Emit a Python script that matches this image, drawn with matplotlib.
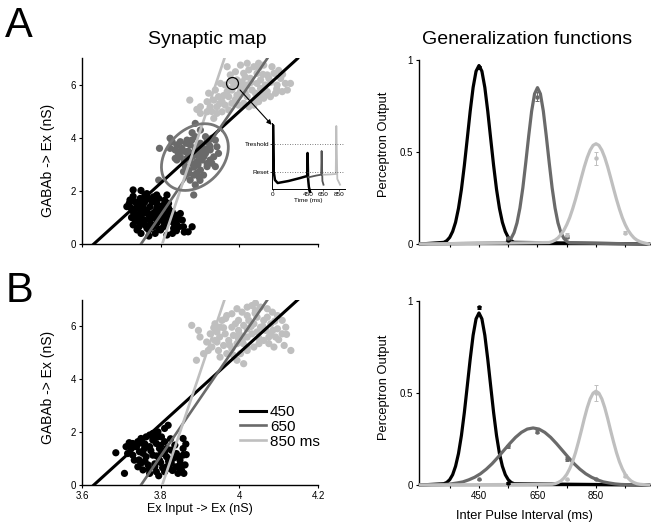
import numpy as np
import matplotlib.pyplot as plt

plt.rcParams['font.family'] = ['Liberation Sans', 'DejaVu Sans']

# colours for the three trained intervals
BLACK = '#000000'
DARK = '#6a6a6a'
LIGHT = '#bfbfbf'

# ---------------- panel A, synaptic map (Ex input, GABAb) ----------------
a450_x = [3.73, 3.75, 3.76, 3.72, 3.714, 3.816, 3.82, 3.88, 3.87, 3.85, 3.84, 3.855, 3.73, 3.74, 3.75,
          3.816, 3.83, 3.80, 3.78, 3.773, 3.765, 3.745, 3.79, 3.803, 3.807, 3.82, 3.795, 3.778, 3.73, 3.74,
          3.756, 3.77, 3.782, 3.795, 3.812, 3.837, 3.846, 3.858, 3.744, 3.76, 3.77, 3.786, 3.726, 3.722,
          3.748, 3.773, 3.786, 3.757, 3.735, 3.829, 3.833, 3.807, 3.79, 3.816, 3.75, 3.76, 3.78, 3.79,
          3.80, 3.74, 3.77, 3.80, 3.81, 3.83, 3.76, 3.79, 3.735, 3.75, 3.82,
          3.725, 3.735, 3.745, 3.755, 3.765, 3.775, 3.785, 3.795, 3.805, 3.815, 3.825, 3.835, 3.845,
          3.765, 3.78, 3.795, 3.755, 3.81, 3.73, 3.77, 3.86, 3.84, 3.79, 3.75]
a450_y = [2.04, 2.02, 1.85, 1.53, 1.41, 1.85, 1.53, 0.65, 0.46, 1.15, 0.78, 0.90, 0.72, 0.53, 0.40,
          0.34, 0.40, 0.53, 0.65, 0.90, 1.28, 1.53, 1.53, 1.34, 1.03, 0.84, 1.03, 1.59, 1.22, 1.41,
          1.53, 1.72, 1.78, 1.72, 1.59, 1.09, 0.65, 0.65, 0.84, 0.72, 0.53, 0.40, 1.00, 1.66,
          1.72, 1.41, 1.22, 1.16, 1.59, 1.22, 0.59, 0.65, 0.78, 1.16, 1.00, 0.90, 1.00, 1.35,
          0.90, 1.10, 1.10, 1.20, 0.75, 0.95, 1.60, 1.85, 1.30, 1.35, 1.35,
          1.35, 0.90, 0.65, 1.45, 0.60, 0.75, 1.60, 0.55, 1.45, 0.95, 1.05, 0.75, 0.95,
          1.90, 1.15, 1.20, 0.80, 1.65, 1.80, 0.30, 0.45, 0.50, 0.95, 1.20]

a650_x = [3.797, 3.795, 3.824, 3.829, 3.841, 3.854, 3.867, 3.888, 3.901, 3.888, 3.875, 3.863, 3.850,
          3.837, 3.841, 3.867, 3.879, 3.892, 3.901, 3.909, 3.918, 3.930, 3.939, 3.943, 3.935, 3.926,
          3.918, 3.901, 3.892, 3.884, 3.871, 3.863, 3.858, 3.875, 3.888, 3.884, 3.897, 3.909, 3.918,
          3.905, 3.892, 3.879, 3.901, 3.914, 3.939, 3.947, 3.871, 3.888, 3.850, 3.837, 3.824, 3.879,
          3.914, 3.926,
          3.86, 3.87, 3.88, 3.895, 3.905, 3.885, 3.865, 3.85, 3.91, 3.925, 3.87, 3.895, 3.88, 3.845,
          3.90, 3.93]
a650_y = [3.61, 2.41, 3.99, 3.86, 3.74, 3.61, 3.92, 4.55, 4.30, 4.05, 3.74, 3.48, 3.29,
          3.23, 3.17, 3.23, 3.42, 3.36, 3.55, 3.61, 3.86, 3.99, 3.92, 3.67, 3.29, 3.17,
          2.92, 2.79, 2.67, 2.60, 2.67, 2.92, 2.73, 2.41, 2.23, 1.85, 2.54, 2.60, 3.04,
          3.17, 3.11, 3.04, 3.80, 3.42, 2.92, 3.42, 3.29, 3.61, 3.86, 3.55, 3.61, 3.92,
          4.05, 3.55,
          3.10, 3.50, 3.30, 3.00, 3.45, 2.90, 3.80, 3.50, 3.30, 3.70, 2.80, 3.70, 4.20, 3.40,
          2.40, 3.05]

a850_x = [3.874, 3.892, 3.901, 3.918, 3.926, 3.922, 3.939, 3.947, 3.956, 3.964, 3.943, 3.935, 3.956,
          3.973, 3.981, 3.994, 4.003, 4.011, 4.020, 4.032, 4.045, 4.054, 4.066, 4.075, 4.088, 4.105,
          4.117, 4.130, 4.109, 4.092, 4.079, 4.062, 4.049, 4.037, 4.024, 4.011, 3.998, 3.977, 3.990,
          4.011, 4.024, 4.037, 4.049, 4.062, 4.083, 3.969, 3.986, 3.969, 3.952, 3.935, 3.973, 4.028,
          4.045, 4.071, 4.096, 4.122, 3.994, 4.007, 4.020, 4.041, 4.054, 4.071, 4.020, 4.003, 3.981,
          3.964, 3.943, 3.918, 3.901, 4.054,
          3.95, 3.99, 4.00, 4.015, 4.03, 4.06, 4.08, 4.10, 4.04, 3.96, 3.975, 4.05, 4.095, 3.93,
          4.015, 3.98, 4.11, 4.065]
a850_y = [5.43, 5.08, 5.18, 4.99, 5.18, 5.69, 5.81, 5.56, 5.37, 5.24, 4.93, 4.74, 4.99,
          5.06, 5.31, 5.62, 5.75, 5.94, 5.56, 5.81, 6.06, 6.19, 6.00, 6.25, 6.44, 6.25,
          6.06, 6.06, 5.75, 5.69, 5.56, 5.50, 5.37, 5.24, 5.18, 5.31, 5.24, 6.38, 6.50,
          6.44, 6.57, 6.69, 6.82, 6.75, 6.69, 6.69, 6.00, 5.75, 6.06, 5.43, 5.56, 6.25,
          6.44, 6.38, 6.00, 5.81, 6.19, 6.12, 6.00, 5.69, 5.87, 5.75, 6.82, 6.75, 5.81,
          6.00, 5.18, 5.37, 4.93, 5.56,
          5.30, 5.45, 5.95, 5.70, 6.10, 6.40, 6.10, 6.55, 5.45, 5.60, 5.85, 6.65, 5.85, 5.00,
          6.30, 6.15, 6.40, 5.65]

# ---------------- panel B, synaptic map ----------------
b450_x = [3.686, 3.708, 3.712, 3.725, 3.729, 3.742, 3.750, 3.763, 3.772, 3.780, 3.793, 3.802, 3.819,
          3.810, 3.857, 3.864, 3.857, 3.862, 3.853, 3.859, 3.840, 3.827, 3.815, 3.797, 3.785, 3.772,
          3.755, 3.742, 3.733, 3.729, 3.746, 3.759, 3.772, 3.789, 3.797, 3.815, 3.827, 3.840, 3.849,
          3.832, 3.802, 3.780, 3.763, 3.750, 3.768, 3.789, 3.810, 3.823, 3.844, 3.810, 3.780, 3.738,
          3.716, 3.793, 3.836, 3.755, 3.815, 3.857,
          3.74, 3.76, 3.775, 3.79, 3.80, 3.805, 3.82, 3.83, 3.835, 3.85, 3.845, 3.76, 3.77, 3.785,
          3.80, 3.81, 3.755, 3.745, 3.795, 3.865, 3.72, 3.78, 3.825]
b450_y = [1.22, 0.44, 1.45, 1.38, 1.57, 1.64, 1.76, 1.82, 1.89, 1.95, 2.01, 1.82, 2.26,
          2.14, 1.76, 1.55, 1.13, 0.76, 0.57, 0.44, 0.69, 0.82, 1.07, 0.94, 0.69, 0.44,
          0.57, 0.69, 0.94, 1.13, 1.26, 1.38, 1.45, 1.57, 1.38, 1.38, 1.32, 1.19, 0.94,
          1.01, 1.19, 1.13, 1.07, 0.82, 0.76, 0.50, 0.50, 0.63, 0.44, 1.64, 1.70, 1.45,
          1.19, 1.82, 1.51, 1.57, 0.69, 1.38,
          1.50, 1.55, 1.30, 1.10, 0.85, 0.65, 0.90, 0.55, 1.15, 0.80, 1.05, 0.90, 0.60, 0.80,
          1.50, 1.25, 1.20, 0.95, 0.35, 1.15, 1.60, 1.85, 1.75]

b850_x = [3.879, 3.896, 3.900, 3.891, 3.909, 3.921, 3.930, 3.938, 3.926, 3.943, 3.951, 3.938, 3.956,
          3.968, 3.981, 3.994, 4.007, 4.020, 4.032, 4.041, 4.054, 4.071, 4.084, 4.097, 4.109, 4.118,
          4.109, 4.092, 4.080, 4.067, 4.054, 4.037, 4.024, 4.011, 3.998, 3.985, 3.973, 3.960, 3.947,
          3.951, 3.968, 3.981, 3.994, 4.007, 4.020, 4.032, 4.045, 4.062, 4.075, 4.088, 4.114, 4.131,
          4.011, 3.994, 3.985, 4.003, 4.020, 4.037, 4.050, 3.964, 3.981, 3.998, 4.020, 4.045, 4.062,
          4.080, 4.097, 4.071, 3.943, 3.917, 4.041, 4.020, 3.998,
          3.95, 3.96, 3.99, 4.00, 4.01, 4.03, 4.04, 4.06, 4.075, 4.09, 4.10, 4.02, 3.975, 3.965,
          4.05, 4.085, 3.935, 4.12]
b850_y = [6.04, 5.85, 5.60, 4.72, 4.97, 5.09, 5.22, 5.47, 5.72, 5.79, 5.97, 6.10, 6.23,
          6.41, 6.48, 6.67, 6.54, 6.73, 6.79, 6.88, 6.73, 6.67, 6.54, 6.41, 6.23, 5.97,
          5.72, 5.60, 5.72, 5.85, 5.97, 6.10, 6.23, 6.04, 5.85, 5.66, 5.47, 5.28, 5.09,
          4.84, 4.97, 5.16, 5.35, 5.47, 5.60, 5.72, 5.79, 5.47, 5.35, 5.22, 5.28, 5.09,
          4.59, 4.72, 4.91, 4.97, 5.09, 5.22, 5.35, 5.72, 5.97, 6.23, 6.41, 6.35, 6.23,
          6.10, 5.91, 6.35, 5.41, 5.41, 6.60, 5.91, 5.53,
          5.60, 5.95, 6.10, 5.70, 5.35, 6.00, 6.50, 6.00, 5.60, 6.20, 5.50, 5.20, 5.30, 6.30,
          5.55, 5.85, 5.95, 5.70]

# fitted separating lines: Ex value where GABAb = 0 and where GABAb = 7
line_x0 = [3.630, 3.750, 3.804]
line_x7 = [4.148, 4.071, 3.962]
line_colors = [BLACK, DARK, LIGHT]
line_labels = ['450', '650', '850 ms']

# inset: membrane potential traces (time in ms, potential in arbitrary units)
tr450_t = [0, 0, 8, 25, 60, 200, 350, 440, 445, 452, 462, 478]
tr450_v = [17, 64, 18, 9, 6, 8, 11, 13, 36, 10, 2, -3]
tr650_t = [457, 560, 620, 626, 636, 650]
tr650_v = [11.7, 13.5, 14.3, 38, 8, 4.3]
tr850_t = [650, 740, 808, 815, 828, 863]
tr850_v = [14.3, 14.6, 15, 63, 10, 4.3]
threshold = 45
reset = 17

# ---------------- generalization functions ----------------
ipi_ticks = [350, 450, 550, 650, 750, 850, 950]

ga450_x = [250, 330, 340, 350, 360, 370, 380, 390, 400, 410, 420, 430, 440, 450, 460, 470, 480, 490,
           500, 510, 520, 530, 540, 550, 560, 570, 1030]
ga450_y = [0, 0.009, 0.018, 0.036, 0.068, 0.118, 0.194, 0.297, 0.427, 0.573, 0.722, 0.851, 0.939, 0.970,
           0.939, 0.851, 0.722, 0.573, 0.427, 0.297, 0.194, 0.118, 0.068, 0.036, 0.018, 0.009, 0]
ga650_x = [250, 540, 550, 560, 570, 580, 590, 600, 610, 620, 630, 640, 650, 660, 670, 680, 690, 700,
           710, 720, 730, 740, 750, 760, 1030]
ga650_y = [0, 0.006, 0.014, 0.031, 0.062, 0.115, 0.196, 0.306, 0.443, 0.588, 0.722, 0.816, 0.850,
           0.816, 0.722, 0.588, 0.443, 0.306, 0.196, 0.115, 0.062, 0.031, 0.014, 0.006, 0]
ga850_x = [250, 690, 700, 710, 720, 730, 740, 750, 760, 770, 780, 790, 800, 810, 820, 830, 840, 850,
           860, 870, 880, 890, 900, 910, 920, 930, 940, 950, 960, 970, 980, 990, 1000, 1010, 1030]
ga850_y = [0, 0.008, 0.013, 0.021, 0.033, 0.051, 0.074, 0.105, 0.143, 0.190, 0.243, 0.301, 0.361,
           0.419, 0.470, 0.510, 0.536, 0.545, 0.536, 0.510, 0.470, 0.419, 0.361, 0.301, 0.243, 0.190,
           0.143, 0.105, 0.074, 0.051, 0.033, 0.021, 0.013, 0.008, 0]

gb450_x = ga450_x
gb450_y = [0, 0.007, 0.014, 0.029, 0.056, 0.102, 0.171, 0.269, 0.394, 0.538, 0.684, 0.814, 0.903, 0.935,
           0.903, 0.814, 0.684, 0.538, 0.394, 0.269, 0.171, 0.102, 0.056, 0.029, 0.014, 0.007, 0]
gb650_x = [250, 315, 335, 355, 375, 395, 415, 435, 455, 475, 495, 515, 535, 555, 575, 595, 615, 635,
           655, 675, 695, 715, 735, 755, 775, 795, 815, 835, 855, 875, 895, 915, 935, 955, 1030]
gb650_y = [0, 0.002, 0.003, 0.006, 0.011, 0.017, 0.028, 0.042, 0.061, 0.086, 0.116, 0.151, 0.188,
           0.225, 0.259, 0.286, 0.304, 0.310, 0.304, 0.286, 0.259, 0.225, 0.188, 0.151, 0.116, 0.086,
           0.061, 0.042, 0.028, 0.017, 0.011, 0.006, 0.003, 0.002, 0]
gb850_x = [250, 700, 710, 720, 730, 740, 750, 760, 770, 780, 790, 800, 810, 820, 830, 840, 850, 860,
           870, 880, 890, 900, 910, 920, 930, 940, 950, 960, 970, 980, 990, 1000, 1030]
gb850_y = [0, 0.004, 0.007, 0.013, 0.022, 0.037, 0.058, 0.088, 0.127, 0.176, 0.234, 0.296, 0.361,
           0.420, 0.468, 0.499, 0.510, 0.499, 0.468, 0.420, 0.361, 0.296, 0.234, 0.176, 0.127, 0.088,
           0.058, 0.037, 0.022, 0.013, 0.007, 0.004, 0]

# measured perceptron output (mean and error) at the tested intervals
pa_x = [[450, 550], [550, 650, 750], [750, 850, 950]]
pa_y = [[0.96, 0.02], [0.03, 0.80, 0.04], [0.05, 0.465, 0.06]]
pa_e = [[0.01, 0.005], [0.005, 0.025, 0.008], [0.008, 0.035, 0.008]]
pb_x = [[450, 550], [450, 550, 650, 750, 850], [750, 850, 950]]
pb_y = [[0.965, 0.01], [0.03, 0.21, 0.29, 0.14, 0.03], [0.03, 0.50, 0.05]]
pb_e = [[0.01, 0.005], [0.005, 0.01, 0.01, 0.01, 0.005], [0.005, 0.045, 0.008]]


W, H = 651, 529
fig = plt.figure(figsize=(W / 100, H / 100), dpi=100)


def px_axes(left, top, right, bottom):
    # axes placed by pixel box of the reference picture
    return fig.add_axes([left / W, 1 - bottom / H, (right - left) / W, (bottom - top) / H])


def style(ax):
    for s in ['top', 'right']:
        ax.spines[s].set_visible(False)
    for s in ['left', 'bottom']:
        ax.spines[s].set_linewidth(1.0)
    ax.tick_params(length=2.5, width=0.8, labelsize=7, pad=2)


def synaptic_map(ax, clouds):
    for (xs, ys), c in zip(clouds, [BLACK, DARK, LIGHT]):
        ax.scatter(xs, ys, s=27, color=c, edgecolors='none', zorder=2)
    for x0, x7, c, lab in zip(line_x0, line_x7, line_colors, line_labels):
        lw = 2.2 if c == BLACK else 1.9
        ax.plot([x0, x7], [0, 7], color=c, lw=lw, zorder=3, label=lab)
    ax.set_xlim(3.6, 4.2)
    ax.set_ylim(0, 7)
    ax.set_yticks([0, 2, 4, 6])
    ax.set_xticks([3.6, 3.8, 4.0, 4.2])
    style(ax)


def generalization(ax, curves, px, py, pe):
    for (xs, ys), c in zip(curves, [BLACK, DARK, LIGHT]):
        ax.plot(xs, ys, color=c, lw=2.3, clip_on=False, zorder=3)
    for xs, ys, es, c in zip(px, py, pe, [BLACK, DARK, LIGHT]):
        ax.errorbar(xs, ys, yerr=es, fmt='o', ms=2.2, color=c, elinewidth=0.7,
                    capsize=1.5, capthick=0.7, clip_on=False, zorder=4)
    ax.set_xlim(245, 1038)
    ax.set_ylim(0, 1)
    ax.set_yticks([0, 0.5, 1])
    ax.set_yticklabels(['0', '0.5', '1'])
    ax.set_xticks(ipi_ticks)
    style(ax)


# panel A left
axA = px_axes(82, 58.5, 318, 244)
synaptic_map(axA, [(a450_x, a450_y), (a650_x, a650_y), (a850_x, a850_y)])
axA.set_xticklabels([])
axA.set_ylabel('GABAb -> Ex (nS)', fontsize=10)
axA.yaxis.set_label_coords(-0.114, 0.45)

# ellipse round the 650 ms cloud, drawn in pixel units then mapped to data
t = np.linspace(0, 2 * np.pi, 200)
ang = np.deg2rad(45)
ex = 3.887 + (38 * np.cos(t) * np.cos(ang) - 28 * np.sin(t) * np.sin(ang)) / 392.5
ey = 3.28 + (38 * np.cos(t) * np.sin(ang) + 28 * np.sin(t) * np.cos(ang)) / 26.5
axA.plot(ex, ey, color='#777777', lw=2.0, zorder=4)

# small circle and arrow to the inset
axA.plot([3.982], [6.08], marker='o', ms=8.6, mfc='none', mec='black', mew=0.9, zorder=5)
axA.annotate('', xy=(4.087, 4.42), xytext=(3.997, 5.89),
             arrowprops=dict(arrowstyle='-|>', color='black', lw=0.8, mutation_scale=7),
             annotation_clip=False, zorder=5)

# inset with traces
ins = px_axes(272, 123, 345, 193)
ins.set_facecolor('none')
ins.plot(tr450_t, tr450_v, color=BLACK, lw=1.8)
ins.plot(tr650_t, tr650_v, color='#555555', lw=1.3)
ins.plot(tr850_t, tr850_v, color=LIGHT, lw=1.3)
ins.axhline(threshold, ls=(0, (1, 2)), color='#555555', lw=0.6)
ins.axhline(reset, ls=(0, (1, 2)), color='#555555', lw=0.6)
ins.set_xlim(-13, 927)
ins.set_ylim(-4, 66)
for s in ['top', 'right']:
    ins.spines[s].set_visible(False)
ins.spines['bottom'].set_position(('data', 0))
ins.spines['left'].set_bounds(0, 66)
ins.spines['left'].set_linewidth(0.7)
ins.spines['bottom'].set_linewidth(0.7)
ins.set_xticks([0, 450, 650, 850])
ins.set_yticks([reset, threshold])
ins.set_yticklabels(['Reset', 'Treshold'])
ins.tick_params(length=1.2, width=0.5, labelsize=4.6, pad=1)
ins.set_xlabel('Time (ms)', fontsize=4.6, labelpad=1)

# panel B left
axB = px_axes(82, 300, 318, 485)
synaptic_map(axB, [(b450_x, b450_y), ([], []), (b850_x, b850_y)])
axB.set_xticklabels(['3.6', '3.8', '4', '4.2'])
axB.set_ylabel('GABAb -> Ex (nS)', fontsize=10)
axB.yaxis.set_label_coords(-0.114, 0.53)
axB.set_xlabel('Ex Input -> Ex (nS)', fontsize=9)
axB.xaxis.set_label_coords(0.5, -0.095)
axB.legend(loc='upper left', bbox_to_anchor=(240 / W, 1 - 405 / H), bbox_transform=fig.transFigure,
           frameon=False, fontsize=11, handlelength=1.7, handletextpad=0.25, labelspacing=0.05,
           borderpad=0, borderaxespad=0)

# panel A right
axC = px_axes(419, 60, 651, 244)
generalization(axC, [(ga450_x, ga450_y), (ga650_x, ga650_y), (ga850_x, ga850_y)], pa_x, pa_y, pa_e)
axC.set_xticklabels([])
axC.set_ylabel('Perceptron Output', fontsize=9.3)
axC.yaxis.set_label_coords(-0.125, 0.54)

# panel B right
axD = px_axes(419, 301, 651, 485)
generalization(axD, [(gb450_x, gb450_y), (gb650_x, gb650_y), (gb850_x, gb850_y)], pb_x, pb_y, pb_e)
axD.set_xticklabels(['' if v not in (450, 650, 850) else str(v) for v in ipi_ticks])
axD.set_ylabel('Perceptron Output', fontsize=9.3)
axD.yaxis.set_label_coords(-0.125, 0.53)
axD.set_xlabel('Inter Pulse Interval (ms)', fontsize=9.3)
axD.xaxis.set_label_coords(0.453, -0.136)

# titles and panel letters
fig.text(207 / W, 1 - 44 / H, 'Synaptic map', ha='center', va='baseline', fontsize=14)
fig.text(527 / W, 1 - 44 / H, 'Generalization functions', ha='center', va='baseline', fontsize=14)
fig.text(5 / W, 1 - 37 / H, 'A', ha='left', va='baseline', fontsize=30)
fig.text(6 / W, 1 - 302 / H, 'B', ha='left', va='baseline', fontsize=30)

fig.savefig('out.png', dpi=100)
